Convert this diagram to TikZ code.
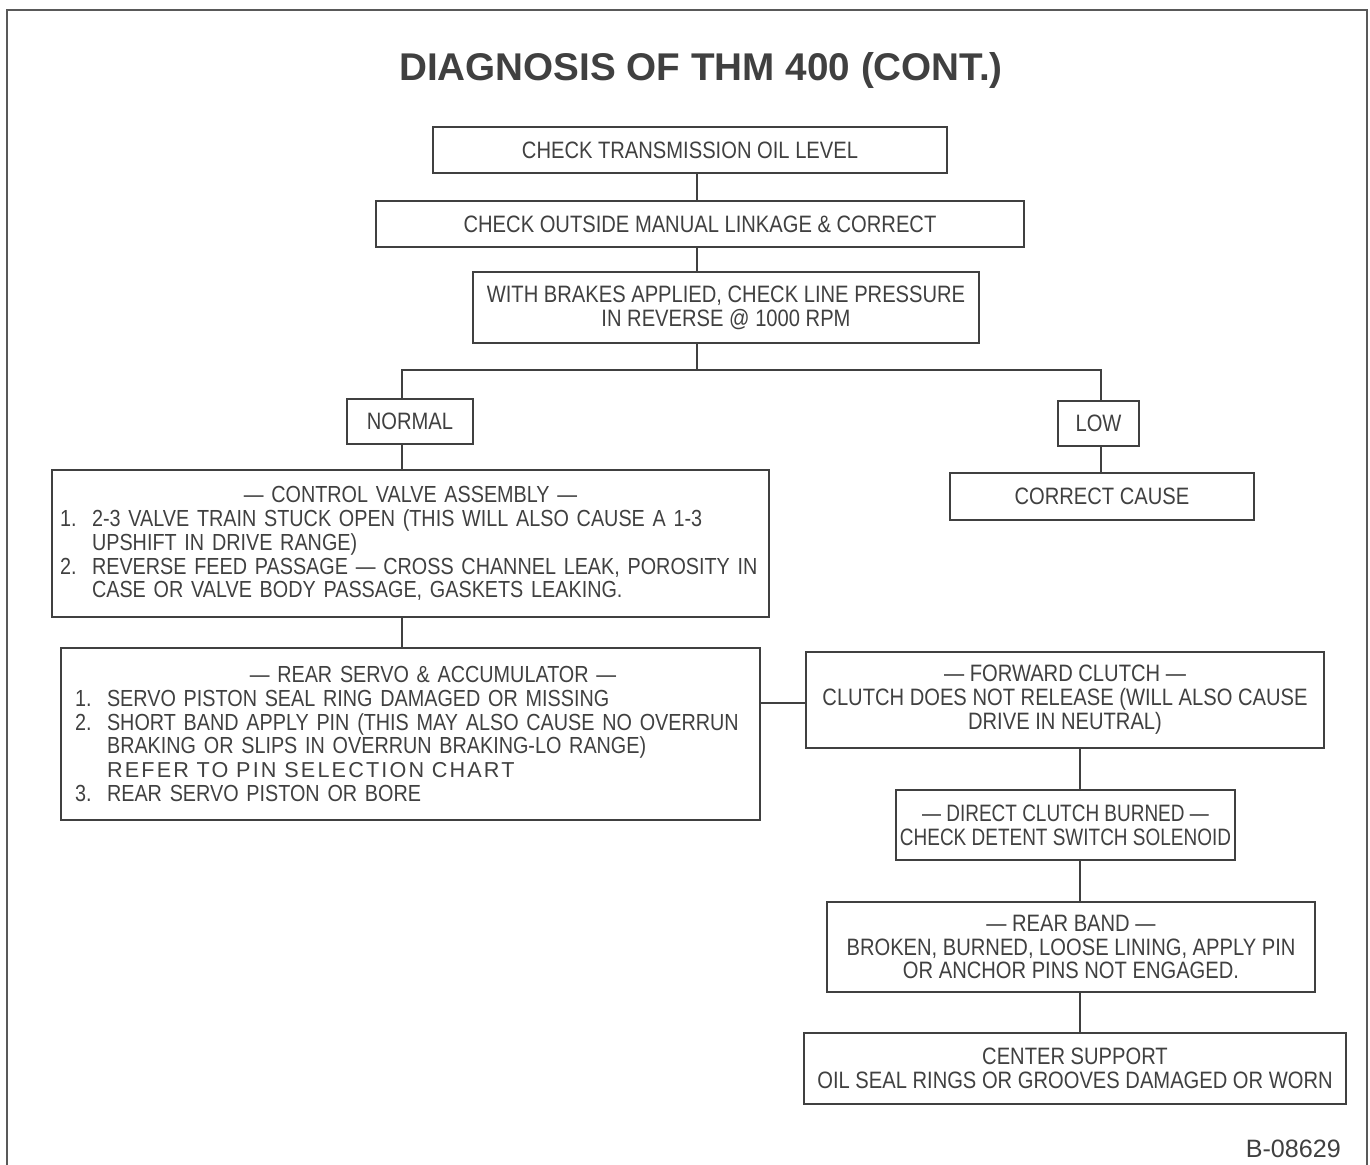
\documentclass[tikz,border=0pt]{standalone}
\usepackage{fontspec}
\setmainfont{Liberation Sans}[FakeStretch=0.85]
\newfontfamily\titlefont{Liberation Sans}
\newfontfamily\widefont{Liberation Sans}[LetterSpace=10]
\newfontfamily\narrowfont{Liberation Sans}[FakeStretch=0.8]
\newfontfamily\codefont{Liberation Sans}
\definecolor{ink}{gray}{0.25}
\definecolor{rule}{gray}{0.35}
% numbered lines with a hanging indent, kept on one line
\newcommand{\itm}[2]{\mbox{\makebox[0.64cm][l]{#1}#2}}
\newcommand{\cnt}[1]{\mbox{\hspace*{0.64cm}#1}}

\begin{document}
\begin{tikzpicture}[x=0.02cm,y=-0.02cm,
  every node/.style={text=ink, font=\fontsize{13.5}{13.6}\selectfont},
  box/.style={draw=ink, line width=1.6pt, inner sep=0pt, align=center},
  listbox/.style={draw=ink, line width=1.6pt, inner ysep=0pt, align=left, font=\fontsize{13.25}{13.6}\selectfont},
  wire/.style={draw=ink, line width=1.3pt}]
\useasboundingbox (0,0) rectangle (1370,1165);
\draw [rule, line width=1.1pt] (7,1165) -- (7,10) -- (1367,10) -- (1367,1165);

\node (title) at (701,71) {\titlefont\bfseries\fontsize{22}{26}\selectfont DIAGNOSIS OF THM 400 (CONT.)};

% main checks
\node [box, minimum width=10.28cm, minimum height=0.92cm] (oil) at (690,150) {CHECK TRANSMISSION OIL LEVEL};
\node [box, minimum width=12.96cm, minimum height=0.92cm] (linkage) at (700,224) {CHECK OUTSIDE MANUAL LINKAGE \& CORRECT};
\node [box, minimum width=10.12cm, minimum height=1.42cm] (pressure) at (726,307.5) {WITH BRAKES APPLIED, CHECK LINE PRESSURE\\IN REVERSE @ 1000 RPM};

% results
\node [box, minimum width=2.52cm, minimum height=0.90cm] (normal) at (410,421.5) {NORMAL};
\node [box, minimum width=1.62cm, minimum height=0.90cm] (low) at (1098.5,423.5) {LOW};
\node [box, minimum width=6.08cm, minimum height=0.94cm] (cause) at (1102,496.5) {CORRECT CAUSE};

% normal branch
\node [listbox, inner xsep=0.16cm, text width=14.02cm, minimum height=2.94cm] (valve) at (410.5,543.5) {%
  \makebox[\linewidth]{— CONTROL VALVE ASSEMBLY —}\\
  \itm{1.}{2-3 VALVE TRAIN STUCK OPEN (THIS WILL ALSO CAUSE A 1-3}\\
  \cnt{UPSHIFT IN DRIVE RANGE)}\\
  \itm{2.}{REVERSE FEED PASSAGE — CROSS CHANNEL LEAK, POROSITY IN}\\
  \cnt{CASE OR VALVE BODY PASSAGE, GASKETS LEAKING.}};
\node [listbox, inner xsep=0.28cm, text width=13.42cm, minimum height=3.44cm] (servo) at (410.5,734) {%
  \makebox[\linewidth]{\hspace{0.9cm}— REAR SERVO \& ACCUMULATOR —}\\
  \itm{1.}{SERVO PISTON SEAL RING DAMAGED OR MISSING}\\
  \itm{2.}{SHORT BAND APPLY PIN (THIS MAY ALSO CAUSE NO OVERRUN}\\
  \cnt{BRAKING OR SLIPS IN OVERRUN BRAKING-LO RANGE)}\\
  \cnt{\widefont\fontsize{12.3}{13.6}\selectfont REFER TO PIN SELECTION CHART}\\
  \itm{3.}{REAR SERVO PISTON OR BORE}};

% right column
\node [box, minimum width=10.36cm, minimum height=1.92cm] (forward) at (1065,700) {— FORWARD CLUTCH —\\CLUTCH DOES NOT RELEASE (WILL ALSO CAUSE\\DRIVE IN NEUTRAL)};
\node [box, minimum width=6.78cm, minimum height=1.40cm, font=\narrowfont\fontsize{13.5}{13.6}\selectfont] (direct) at (1065.5,825) {— DIRECT CLUTCH BURNED —\\CHECK DETENT SWITCH SOLENOID};
\node [box, minimum width=9.76cm, minimum height=1.80cm] (band) at (1071,947) {— REAR BAND —\\BROKEN, BURNED, LOOSE LINING, APPLY PIN\\OR ANCHOR PINS NOT ENGAGED.};
\node [box, minimum width=10.84cm, minimum height=1.42cm] (support) at (1075,1068.5) {CENTER SUPPORT\\OIL SEAL RINGS OR GROOVES DAMAGED OR WORN};

\node [anchor=base east] (code) at (1347,1157) {\codefont\fontsize{14.3}{16}\selectfont B-08629};

% connector columns
\coordinate (spine) at (697,370);
\coordinate (lcol) at (402,0);
\coordinate (rcol) at (1101,0);
\coordinate (ccol) at (1080,0);
\coordinate (link) at (0,703);

\path [wire] (oil.south -| spine) edge (linkage.north -| spine);
\path [wire] (linkage.south -| spine) edge (pressure.north -| spine);
\path [wire] (pressure.south -| spine) edge (spine);
\draw [wire] (normal.north -| lcol) |- (spine) -| (low.north -| rcol);
\path [wire] (low.south -| rcol) edge (cause.north -| rcol);
\path [wire] (normal.south -| lcol) edge (valve.north -| lcol);
\path [wire] (valve.south -| lcol) edge (servo.north -| lcol);
\path [wire] (servo.east |- link) edge (forward.west |- link);
\path [wire] (forward.south -| ccol) edge (direct.north -| ccol);
\path [wire] (direct.south -| ccol) edge (band.north -| ccol);
\path [wire] (band.south -| ccol) edge (support.north -| ccol);
\end{tikzpicture}
\end{document}
